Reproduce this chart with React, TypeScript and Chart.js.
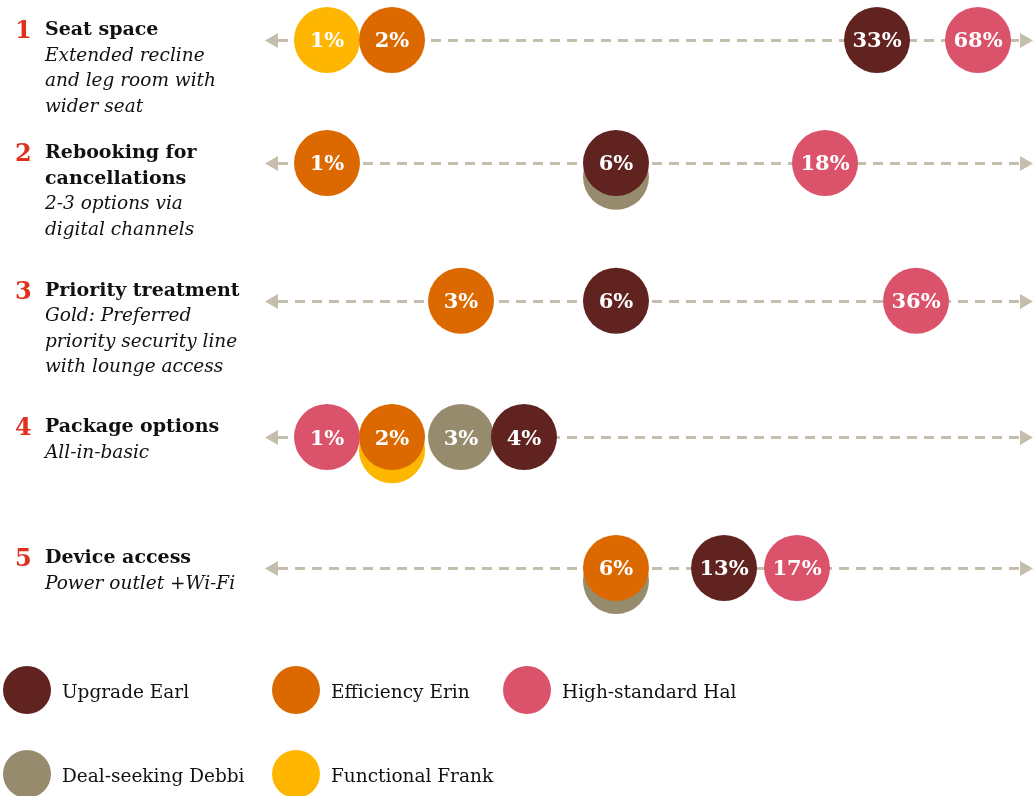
import React, { useEffect, useRef } from 'react';
import { Chart, registerables, LinearScale } from 'chart.js';

// ---------- data ----------
const ROW_NUMBERS = ['1', '2', '3', '4', '5'];
const ROW_TITLES = [
  ['Seat space'],
  ['Rebooking for', 'cancellations'],
  ['Priority treatment'],
  ['Package options'],
  ['Device access'],
];
const ROW_NOTES = [
  ['Extended recline', 'and leg room with', 'wider seat'],
  ['2-3 options via', 'digital channels'],
  ['Gold: Preferred', 'priority security line', 'with lounge access'],
  ['All-in-basic'],
  ['Power outlet +Wi-Fi'],
];

const PERSONAS = ['Upgrade Earl', 'Efficiency Erin', 'High-standard Hal', 'Deal-seeking Debbi', 'Functional Frank'];
const UPGRADE_EARL = [33, 6, 6, 4, 13];
const EFFICIENCY_ERIN = [2, 1, 3, 2, 6];
const HIGH_STANDARD_HAL = [68, 18, 36, 1, 17];
const DEAL_SEEKING_DEBBI = [null, 6, null, 3, 6];
const FUNCTIONAL_FRANK = [1, null, null, 2, null];
const SERIES: (number | null)[][] = [UPGRADE_EARL, EFFICIENCY_ERIN, HIGH_STANDARD_HAL, DEAL_SEEKING_DEBBI, FUNCTIONAL_FRANK];

// ---------- styling ----------
const COLORS = ['#602320', '#dc6900', '#db536a', '#968c6d', '#ffb600'];
const LINE_COLOR = '#c5bead';
const RED = '#e0301e';
const FONT = '"DejaVu Serif", Georgia, serif';
const BUBBLE_R = 33;
const STACK_SHIFT = 0.1; // in row units, for a bubble hidden behind another of equal value

// hand-drawn, non-linear axes of the original infographic (value -> fraction of axis length)
const X_AXIS_VALUES = [0, 1, 2, 3, 4, 6, 13, 17, 18, 33, 36, 68, 100];
const X_AXIS_STOPS = [0, 0.0807, 0.1654, 0.2552, 0.3372, 0.457, 0.5977, 0.6927, 0.7292, 0.7969, 0.8477, 0.9284, 1];
const Y_AXIS_VALUES = [0, 1, 2, 3, 4];
const Y_AXIS_STOPS = [0, 0.233, 0.494, 0.752, 1];

function interp(v: number, xs: number[], ys: number[]) {
  const n = xs.length;
  let i = 1;
  if (v > xs[n - 1]) i = n - 1;
  else while (i < n - 1 && v > xs[i]) i++;
  const t = (v - xs[i - 1]) / (xs[i] - xs[i - 1]);
  return ys[i - 1] + t * (ys[i] - ys[i - 1]);
}

class StretchScale extends LinearScale {
  static id = 'stretch';
  static defaults = LinearScale.defaults;
  getPixelForValue(value: number) {
    if (value === null || value === undefined || isNaN(value)) return NaN;
    const k = (this.options as any).knots;
    return this.getPixelForDecimal(interp(value, k.values, k.stops));
  }
  getValueForPixel(pixel: number) {
    const k = (this.options as any).knots;
    return interp(this.getDecimalForPixel(pixel), k.stops, k.values);
  }
}

Chart.register(...registerables, StretchScale as any);

function buildDatasets() {
  return SERIES.map((values, p) => ({
    label: PERSONAS[p],
    backgroundColor: COLORS[p],
    borderColor: COLORS[p],
    borderWidth: 0,
    hoverBorderWidth: 0,
    clip: false as any,
    data: values
      .map((v, row) => {
        if (v === null) return null;
        const stacked = SERIES.slice(0, p).some((s) => s[row] === v);
        return { x: v, y: row + (stacked ? STACK_SHIFT : 0), r: BUBBLE_R, stacked };
      })
      .filter((d) => d !== null),
  }));
}

const rowLinesPlugin = {
  id: 'rowLines',
  beforeDatasetsDraw(chart: any) {
    const { ctx, chartArea } = chart;
    const yScale = chart.scales.y;
    const head = 13;
    const half = 7.5;
    ctx.save();
    ROW_NUMBERS.forEach((_, i) => {
      const y = Math.round(yScale.getPixelForValue(i)) + 0.5;
      ctx.strokeStyle = LINE_COLOR;
      ctx.fillStyle = LINE_COLOR;
      ctx.lineWidth = 3;
      ctx.setLineDash([10, 7]);
      ctx.beginPath();
      ctx.moveTo(chartArea.left + head, y);
      ctx.lineTo(chartArea.right - head, y);
      ctx.stroke();
      ctx.setLineDash([]);
      ctx.beginPath();
      ctx.moveTo(chartArea.left, y);
      ctx.lineTo(chartArea.left + head, y - half);
      ctx.lineTo(chartArea.left + head, y + half);
      ctx.closePath();
      ctx.fill();
      ctx.beginPath();
      ctx.moveTo(chartArea.right, y);
      ctx.lineTo(chartArea.right - head, y - half);
      ctx.lineTo(chartArea.right - head, y + half);
      ctx.closePath();
      ctx.fill();
    });
    ctx.restore();
  },
};

const bubbleLabelsPlugin = {
  id: 'bubbleLabels',
  afterDatasetsDraw(chart: any) {
    const { ctx } = chart;
    ctx.save();
    ctx.fillStyle = '#ffffff';
    ctx.font = `bold 21px ${FONT}`;
    ctx.textAlign = 'center';
    ctx.textBaseline = 'middle';
    chart.data.datasets.forEach((ds: any, di: number) => {
      const meta = chart.getDatasetMeta(di);
      meta.data.forEach((el: any, j: number) => {
        const d = ds.data[j];
        if (!d || d.stacked) return;
        ctx.fillText(`${d.x}%`, el.x, el.y + 2);
      });
    });
    ctx.restore();
  },
};

const rowTitlesPlugin = {
  id: 'rowTitles',
  afterDraw(chart: any) {
    const { ctx } = chart;
    const yScale = chart.scales.y;
    const lh = 25.5;
    ctx.save();
    ctx.textAlign = 'left';
    ctx.textBaseline = 'alphabetic';
    ROW_NUMBERS.forEach((num, i) => {
      const base = yScale.getPixelForValue(i) - 5;
      ctx.fillStyle = RED;
      ctx.font = `bold 24px ${FONT}`;
      ctx.fillText(num, 15, base + 3);
      ctx.fillStyle = '#111111';
      ctx.font = `bold 19px ${FONT}`;
      let yy = base;
      ROW_TITLES[i].forEach((t) => {
        ctx.fillText(t, 45, yy);
        yy += lh;
      });
      ctx.font = `italic 18.5px ${FONT}`;
      ROW_NOTES[i].forEach((t) => {
        ctx.fillText(t, 45, yy);
        yy += lh;
      });
    });
    ctx.restore();
  },
};

const LEGEND_COL_X = [27, 296, 527];
const LEGEND_ROW_Y = [690, 774];
const personaLegendPlugin = {
  id: 'personaLegend',
  afterDraw(chart: any) {
    const { ctx } = chart;
    ctx.save();
    ctx.textAlign = 'left';
    ctx.textBaseline = 'alphabetic';
    ctx.font = `18.5px ${FONT}`;
    chart.data.datasets.forEach((ds: any, i: number) => {
      const cx = LEGEND_COL_X[i % 3];
      const cy = LEGEND_ROW_Y[Math.floor(i / 3)];
      ctx.fillStyle = ds.backgroundColor;
      ctx.beginPath();
      ctx.arc(cx, cy, 24, 0, Math.PI * 2);
      ctx.fill();
      ctx.fillStyle = '#111111';
      ctx.fillText(ds.label, cx + 35, cy + 8);
    });
    ctx.restore();
  },
};

export default function App() {
  const ref = useRef<HTMLCanvasElement>(null);
  useEffect(() => {
    document.body.style.margin = '0';
    if (!ref.current) return;
    Chart.defaults.font.family = FONT;
    const chart = new Chart(ref.current, {
      type: 'bubble',
      data: { datasets: buildDatasets() as any },
      options: {
        animation: false,
        responsive: false,
        events: [],
        layout: { autoPadding: false, padding: { left: 265, right: 3, top: 40, bottom: 228 } },
        scales: {
          x: { type: 'stretch' as any, min: 0, max: 100, display: false, knots: { values: X_AXIS_VALUES, stops: X_AXIS_STOPS } } as any,
          y: { type: 'stretch' as any, min: 0, max: 4, reverse: true, display: false, knots: { values: Y_AXIS_VALUES, stops: Y_AXIS_STOPS } } as any,
        },
        plugins: { legend: { display: false }, tooltip: { enabled: false } },
      },
      plugins: [rowLinesPlugin, bubbleLabelsPlugin, rowTitlesPlugin, personaLegendPlugin],
    });
    return () => chart.destroy();
  }, []);
  return (
    <div style={{ width: 1036, height: 796 }}>
      <canvas ref={ref} width={1036} height={796} style={{ display: 'block' }} />
    </div>
  );
}
